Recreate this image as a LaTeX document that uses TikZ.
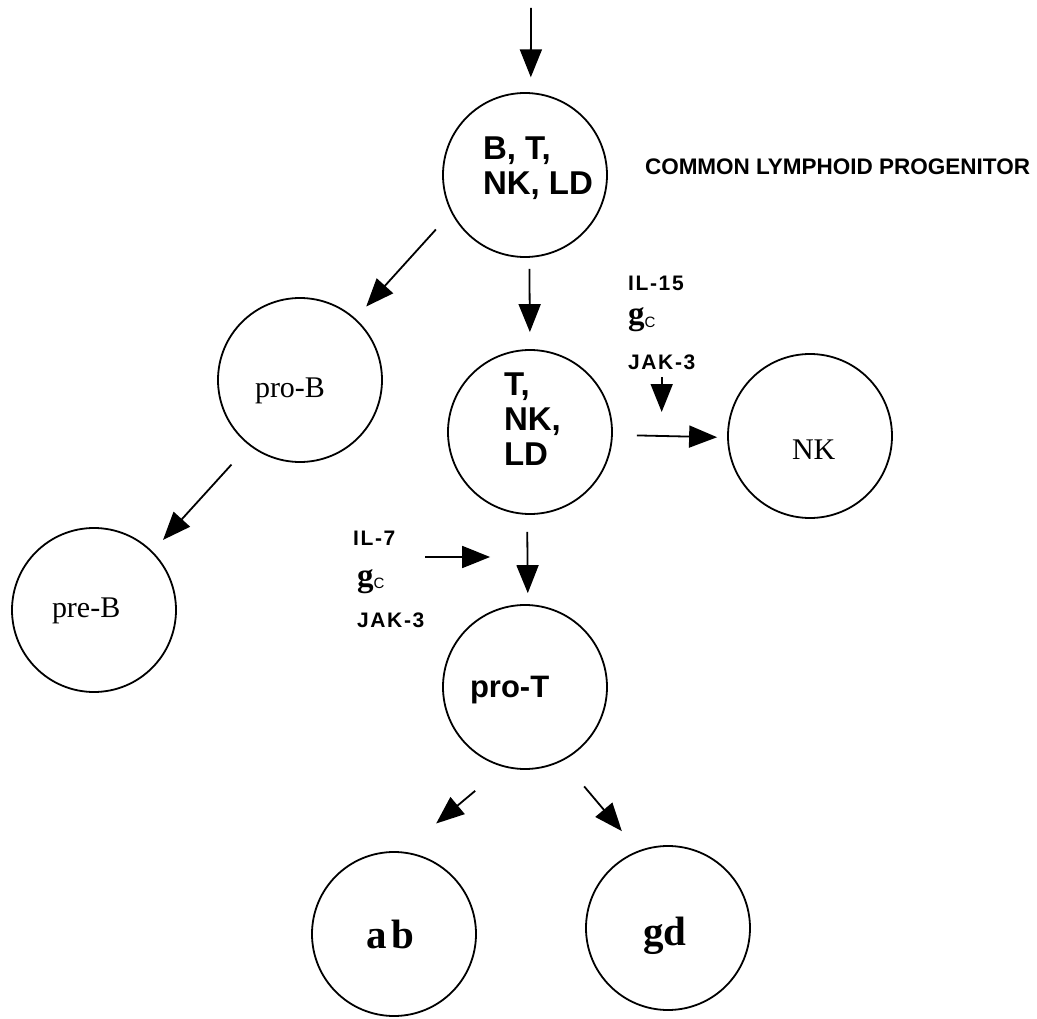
\documentclass[tikz,border=0pt]{standalone}
\usepackage{fontspec}
\setmainfont{Liberation Serif}
\setsansfont{Liberation Sans}
\newfontfamily\spsans[LetterSpace=8]{Liberation Sans}
\usetikzlibrary{arrows.meta,calc}
\newcommand\gcsym{{\fontsize{33}{33}\selectfont\rmfamily\bfseries g}{\fontsize{15}{15}\selectfont\sffamily\raisebox{-2pt}{C}}}
\begin{document}
\begin{tikzpicture}[x=1pt,y=-1pt,
  cell/.style={circle,draw,line width=1.8pt,minimum size=164pt,inner sep=0pt},
  arr/.style={line width=1.8pt,-{Triangle[length=28pt,width=22pt]}},
  txt/.style={inner sep=0pt,outer sep=0pt},
  bigsans/.style={txt,font=\fontsize{33}{35}\selectfont\sffamily\bfseries,align=left,anchor=north west},
  serif/.style={txt,font=\fontsize{30}{34}\selectfont\rmfamily,anchor=base west},
  lab/.style={txt,font=\fontsize{21}{24}\selectfont\spsans\bfseries,anchor=base west},
  greek/.style={txt,font=\fontsize{41}{46}\selectfont\rmfamily\bfseries,anchor=base west},
]
\useasboundingbox (0,0) rectangle (1037,1019);

% cells
\node[cell] (top)  at (525,175) {};
\node[cell] (proB) at (300,380) {};
\node[cell] (T)    at (530,432) {};
\node[cell] (NK)   at (810,436) {};
\node[cell] (preB) at (94,610) {};
\node[cell] (proT) at (525,687) {};
\node[cell] (ab)   at (394,934) {};
\node[cell] (gd)   at (668,928) {};

% texts
\node[bigsans] (topt) at (483,137) {B, T,\\NK, LD};
\node[txt,font=\fontsize{22.5}{27}\selectfont\sffamily\bfseries,anchor=base west] (clp) at (645,175) {COMMON LYMPHOID PROGENITOR};
\node[serif] (proBt) at (255,397) {pro-B};
\node[bigsans] (Tt) at (504,373) {T,\\NK,\\LD};
\node[serif] (NKt) at (792,459) {NK};
\node[serif] (preBt) at (52,617) {pre-B};
\node[txt,anchor=base west,font=\fontsize{31}{34}\selectfont\sffamily\bfseries] (proTt) at (470,697) {pro-T};
\node[greek] (abt) at (366,948) {a\kern5pt b};
\node[greek] (gdt) at (643,945) {gd};

\node[lab] (il15) at (628,291) {IL-15};
\node[txt,anchor=base west] (gc15) at (628,325) {\gcsym};
\node[lab] (jak15) at (628,369) {JAK-3};
\node[lab] (il7) at (353,545) {IL-7};
\node[txt,anchor=base west] (gc7) at (357,586) {\gcsym};
\node[lab] (jak7) at (357,627) {JAK-3};

% connectors
\coordinate (src) at (531,8);
\draw[arr,shorten >=15pt] (src) -- (top.86);
\draw[arr,shorten <=22.7pt,shorten >=16pt] (top.207.9) -- (proB.48.5);
\draw[arr,shorten <=11pt,shorten >=17pt] (top.-87.2) -- (T.90.7);
\draw[arr,shorten <=26pt,shorten >=15.5pt] (proB.232.2) -- (preB.45.5);
\draw[arr,shorten <=24pt,shorten >=10pt] (T.-2) -- (NK.181);
\draw[arr,shorten <=17pt,shorten >=11pt] (T.-92.1) -- (proT.88.6);
\draw[arr,shorten <=37pt,shorten >=43.7pt] (proT.-105.4) -- (ab.84.6);
\draw[arr,shorten <=33.4pt,shorten >=25.5pt] (proT.-63.6) -- (gd.111.1);

\coordinate (n15) at (jak15.south |- T.east);
\draw[arr,shorten <=8pt,shorten >=20pt] (jak15.south) -- (n15);
\coordinate (s7) at (425,557);
\draw[arr,shorten >=37pt] (s7) -- (s7 -| T.-92.1);
\end{tikzpicture}
\end{document}
